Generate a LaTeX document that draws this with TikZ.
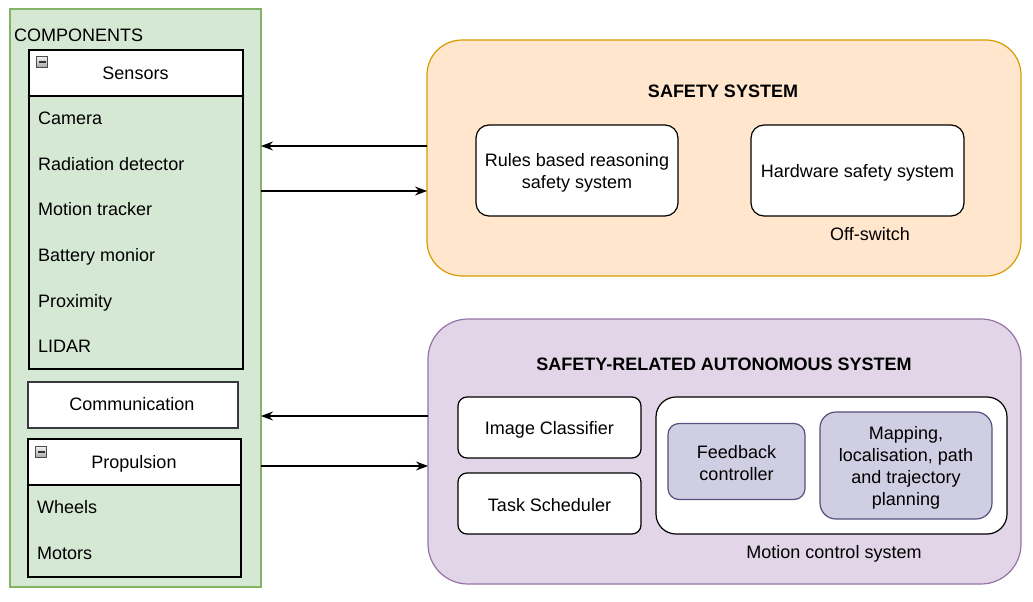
\documentclass[tikz,border=0pt]{standalone}
\usepackage{fontspec}
\setmainfont{Liberation Sans}
\usetikzlibrary{arrows.meta}
\definecolor{gfill}{HTML}{D5E8D4}
\definecolor{gdraw}{HTML}{82B366}
\definecolor{ofill}{HTML}{FFE6CC}
\definecolor{odraw}{HTML}{D79B00}
\definecolor{pfill}{HTML}{E1D5E7}
\definecolor{pdraw}{HTML}{9673A6}
\definecolor{ifill}{HTML}{D0CEE2}
\definecolor{idraw}{HTML}{56517E}
\definecolor{dgray}{HTML}{36393D}
\tikzset{
  txt/.style={font=\fontsize{18}{22}\selectfont, inner sep=0pt, text=black, yshift=-4pt},
  box/.style={draw, line width=1.2pt, inner sep=0pt, outer sep=0pt, font=\fontsize{18}{22}\selectfont, align=center},
  boxlabel/.style={font=\fontsize{18}{22}\selectfont, align=center, inner sep=0pt, yshift=-2pt},
  arr/.style={line width=1.2pt, -{Stealth[length=12pt,width=9pt,inset=4pt]}},
  minusicon/.style={draw=gray!60!black, line width=0.7pt, minimum size=11pt, inner sep=0pt, top color=gray!10, bottom color=gray!70,
    path picture={\fill[black!80] ([xshift=2pt,yshift=-1pt]path picture bounding box.west) rectangle ([xshift=-2pt,yshift=1pt]path picture bounding box.east);}},
}
\begin{document}
\begin{tikzpicture}[x=1pt,y=-1pt]
\useasboundingbox (0,0) rectangle (1033,602);
% green container
\node[box, draw=gdraw, fill=gfill, minimum width=251pt, minimum height=578pt] (green) at (135.5,298) {};
\node[txt, anchor=mid west] (comptitle) at (14,35) {COMPONENTS};
% sensors
\node[box, minimum width=214pt, minimum height=319pt] (sensors) at (136,209.5) {};
\node[box, fill=white, minimum width=214pt, minimum height=46pt] (senshead) at (136,73) {};
\node[txt, anchor=mid] (senslabel) at (135.5,73) {Sensors};
\node[minusicon] (sensmin) at (42,62) {};
\node[txt, anchor=mid west] (s1) at (38,118) {Camera};
\node[txt, anchor=mid west] (s2) at (38,164) {Radiation detector};
\node[txt, anchor=mid west] (s3) at (38,209) {Motion tracker};
\node[txt, anchor=mid west] (s4) at (38,255) {Battery monior};
\node[txt, anchor=mid west] (s5) at (38,301) {Proximity};
\node[txt, anchor=mid west] (s6) at (38,346) {LIDAR};
% communication
\node[box, draw=dgray, fill=white, minimum width=210pt, minimum height=46pt] (comm) at (133,405) {};
\node[txt, anchor=mid] (commlabel) at (132,404) {Communication};
% propulsion
\node[box, minimum width=213pt, minimum height=138pt] (prop) at (134.5,508) {};
\node[box, fill=white, minimum width=213pt, minimum height=46pt] (prophead) at (134.5,462) {};
\node[txt, anchor=mid] (proplabel) at (134,462) {Propulsion};
\node[minusicon] (propmin) at (41,452) {};
\node[txt, anchor=mid west] (p1) at (37,507) {Wheels};
\node[txt, anchor=mid west] (p2) at (37,553) {Motors};
% safety system
\node[box, draw=odraw, fill=ofill, rounded corners=35pt, minimum width=594pt, minimum height=236pt] (safety) at (724,158) {};
\node[txt, font=\fontsize{18}{22}\selectfont\bfseries, anchor=mid] (safetytitle) at (723,91) {SAFETY SYSTEM};
\node[box, fill=white, rounded corners=13pt, minimum width=202pt, minimum height=91pt] (rules) at (577,170.5) {};
\node[boxlabel] (ruleslabel) at (rules.center) {Rules based reasoning\\safety system};
\node[box, fill=white, rounded corners=13pt, minimum width=213pt, minimum height=91pt] (hw) at (857.5,170.5) {};
\node[boxlabel] (hwlabel) at (hw.center) {Hardware safety system};
\node[txt, anchor=mid] (offsw) at (870,234) {Off-switch};
% safety-related autonomous system
\node[box, draw=pdraw, fill=pfill, rounded corners=40pt, minimum width=593pt, minimum height=265pt] (auto) at (724.5,451.5) {};
\node[txt, font=\fontsize{18}{22}\selectfont\bfseries, anchor=mid] (autotitle) at (724,364) {SAFETY-RELATED AUTONOMOUS SYSTEM};
\node[box, fill=white, rounded corners=9pt, minimum width=183pt, minimum height=61pt] (imgcls) at (549.5,427.5) {};
\node[boxlabel] (imgclslabel) at (imgcls.center) {Image Classifier};
\node[box, fill=white, rounded corners=9pt, minimum width=183pt, minimum height=61pt] (task) at (549.5,503.5) {};
\node[boxlabel] (tasklabel) at (task.center) {Task Scheduler};
\node[box, fill=white, rounded corners=20pt, minimum width=351pt, minimum height=137pt] (motion) at (831.5,465.5) {};
\node[box, draw=idraw, fill=ifill, rounded corners=11pt, minimum width=137pt, minimum height=76pt] (feedback) at (736.5,461.5) {};
\node[boxlabel] (feedbacklabel) at (feedback.center) {Feedback\\controller};
\node[box, draw=idraw, fill=ifill, rounded corners=16pt, minimum width=172pt, minimum height=107pt] (mapping) at (906,465.5) {};
\node[boxlabel] (mappinglabel) at (mapping.center) {Mapping,\\localisation, path\\and trajectory\\planning};
\node[txt, anchor=mid] (motionlabel) at (834,552) {Motion control system};
% connectors
\coordinate (ya) at (0,146);
\coordinate (yb) at (0,191);
\coordinate (yc) at (0,416);
\coordinate (yd) at (0,466);
\draw[arr] (safety.west |- ya) -- (green.east |- ya);
\draw[arr] (green.east |- yb) -- (safety.west |- yb);
\draw[arr] (auto.west |- yc) -- (green.east |- yc);
\draw[arr] (green.east |- yd) -- (auto.west |- yd);
\end{tikzpicture}
\end{document}
